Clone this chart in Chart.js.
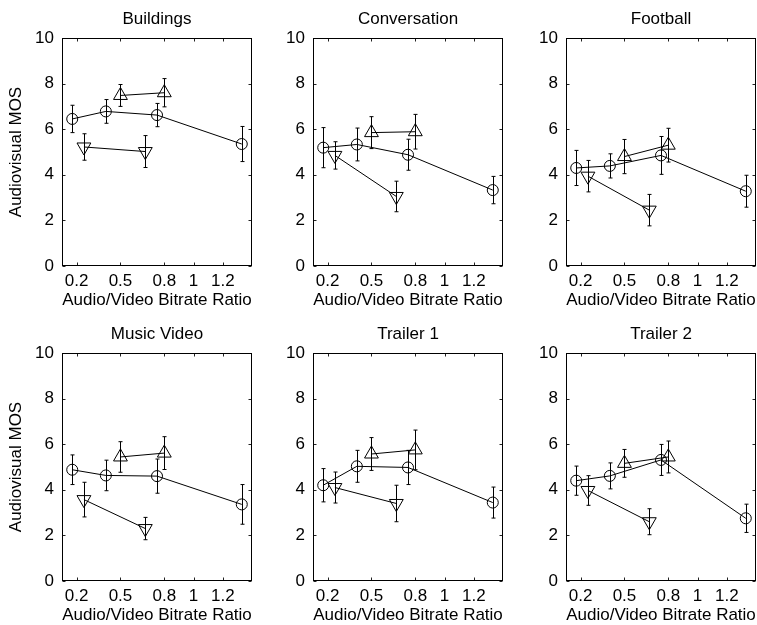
<!DOCTYPE html>
<html><head><meta charset="utf-8">
<script src="https://cdn.jsdelivr.net/npm/chart.js@4.4.0/dist/chart.umd.min.js"></script>
<style>
html,body{margin:0;padding:0;background:#fff;overflow:hidden;width:757px;height:625px;position:relative;}
canvas{position:absolute;}
</style></head><body>
<script>
const titles = ['Buildings','Conversation','Football','Music Video','Trailer 1','Trailer 2'];
const xCircle = [0.17, 0.4, 0.75, 1.33];
const xUp = [0.5, 0.8];
const xDown = [0.25, 0.67];
const xTickValues = [0.2, 0.5, 0.8, 1, 1.2];
const xTickLabels = ['0.2', '0.5', '0.8', '1', '1.2'];
const yTickValues = [0, 2, 4, 6, 8, 10];
const circleMOS = [
  [6.45, 6.78, 6.62, 5.35],
  [5.19, 5.33, 4.88, 3.33],
  [4.30, 4.39, 4.85, 3.28],
  [4.88, 4.63, 4.60, 3.36],
  [4.20, 5.03, 4.98, 3.44],
  [4.40, 4.61, 5.31, 2.75]];
const circleCI = [
  [0.60, 0.52, 0.51, 0.77],
  [0.88, 0.72, 0.68, 0.60],
  [0.77, 0.53, 0.83, 0.70],
  [0.65, 0.67, 0.75, 0.87],
  [0.73, 0.70, 0.75, 0.68],
  [0.64, 0.57, 0.68, 0.62]];
const upMOS = [[7.48, 7.60], [5.85, 5.89], [4.80, 5.30], [5.44, 5.61], [5.57, 5.75], [5.16, 5.44]];
const upCI = [[0.48, 0.62], [0.70, 0.76], [0.75, 0.74], [0.67, 0.72], [0.72, 0.87], [0.61, 0.70]];
const downMOS = [[5.22, 5.02], [4.85, 3.05], [3.94, 2.45], [3.57, 2.30], [4.10, 3.40], [3.97, 2.60]];
const downCI = [[0.58, 0.70], [0.60, 0.67], [0.69, 0.69], [0.76, 0.49], [0.68, 0.80], [0.65, 0.57]];

const FONT = {family: '"Liberation Sans", Arial, Helvetica, sans-serif', size: 17, weight: 'normal', lineHeight: 1.2};
Chart.defaults.color = '#000';
Chart.defaults.font = FONT;

const framePlugin = {
  id: 'frame',
  afterDatasetsDraw(chart) {
    const {ctx, chartArea: a, scales: {x, y}} = chart;
    ctx.save();
    ctx.strokeStyle = '#000';
    ctx.lineWidth = 1;
    chart.data.datasets.forEach(ds => {
      ds.data.forEach((p, i) => {
        const px = Math.round(x.getPixelForValue(p.x)) + 0.5;
        const t = y.getPixelForValue(p.y + ds.ci[i]);
        const b = y.getPixelForValue(p.y - ds.ci[i]);
        ctx.beginPath();
        ctx.moveTo(px, t); ctx.lineTo(px, b);
        ctx.moveTo(px - 2, t); ctx.lineTo(px + 2, t);
        ctx.moveTo(px - 2, b); ctx.lineTo(px + 2, b);
        ctx.stroke();
      });
    });
    const L = Math.round(a.left) + 0.5, R = Math.round(a.right) - 0.5;
    const T = Math.round(a.top) + 0.5, B = Math.round(a.bottom) - 0.5;
    ctx.strokeStyle = '#222';
    ctx.beginPath();
    xTickValues.forEach(v => {
      const px = Math.round(x.getPixelForValue(v)) + 0.5;
      ctx.moveTo(px, B); ctx.lineTo(px, B - 3);
      ctx.moveTo(px, T); ctx.lineTo(px, T + 3);
    });
    yTickValues.forEach(v => {
      const py = Math.round(y.getPixelForValue(v)) + 0.5;
      ctx.moveTo(L, py); ctx.lineTo(L + 3, py);
      ctx.moveTo(R, py); ctx.lineTo(R - 3, py);
    });
    ctx.stroke();
    ctx.strokeStyle = '#000';
    ctx.strokeRect(L, T, R - L, B - T);
    ctx.restore();
  }
};

function series(xs, ys, ci, style, rot, r) {
  return {
    data: xs.map((v, i) => ({x: v, y: ys[i]})),
    ci: ci,
    showLine: true,
    borderColor: '#000',
    borderWidth: 1,
    backgroundColor: 'rgba(0,0,0,0)',
    pointBackgroundColor: 'rgba(0,0,0,0)',
    pointBorderColor: '#000',
    pointBorderWidth: 1,
    pointStyle: style,
    pointRotation: rot,
    pointRadius: r,
    pointHoverRadius: r
  };
}

const colLeft = [0, 251, 504];
const rowTop = [0, 315];

titles.forEach((title, k) => {
  const col = k % 3, row = Math.floor(k / 3);
  const cv = document.createElement('canvas');
  cv.width = 262; cv.height = 312;
  cv.style.left = colLeft[col] + 'px';
  cv.style.top = rowTop[row] + 'px';
  cv.style.width = '262px'; cv.style.height = '312px';
  document.body.appendChild(cv);
  new Chart(cv, {
    type: 'scatter',
    data: {
      datasets: [
        series(xCircle, circleMOS[k], circleCI[k], 'circle', 0, 5.5),
        series(xUp, upMOS[k], upCI[k], 'triangle', 0, 8),
        series(xDown, downMOS[k], downCI[k], 'triangle', 180, 8)
      ]
    },
    options: {
      responsive: false,
      animation: false,
      events: [],
      layout: {padding: {left: 0, right: 10, top: 0, bottom: 0}},
      plugins: {
        legend: {display: false},
        tooltip: {enabled: false},
        title: {display: true, fullSize: false, text: title, font: FONT, color: '#000', padding: {top: 8.8, bottom: 8.8}}
      },
      scales: {
        x: {
          type: 'linear', min: 0.1, max: 1.4,
          grid: {display: false, drawTicks: false}, border: {display: false},
          afterBuildTicks: s => { s.ticks = xTickValues.map(v => ({value: v})); },
          afterFit: s => { s.height = 46; },
          ticks: {autoSkip: false, maxRotation: 0, padding: 5.5, font: FONT, color: '#000',
            callback: (v, i) => xTickLabels[i]},
          title: {display: true, text: 'Audio/Video Bitrate Ratio', font: FONT, color: '#000', padding: {top: 0, bottom: 1.8}}
        },
        y: {
          type: 'linear', min: 0, max: 10,
          grid: {display: false, drawTicks: false}, border: {display: false},
          afterBuildTicks: s => { s.ticks = yTickValues.map(v => ({value: v})); },
          afterFit: s => { s.width = 62; },
          ticks: {padding: 8, font: FONT, color: '#000', callback: v => String(v)},
          title: {display: col === 0, text: 'Audiovisual MOS', font: FONT, color: '#000', padding: {top: 6.5, bottom: 0}}
        }
      }
    },
    plugins: [framePlugin]
  });
});
</script>
</body></html>
